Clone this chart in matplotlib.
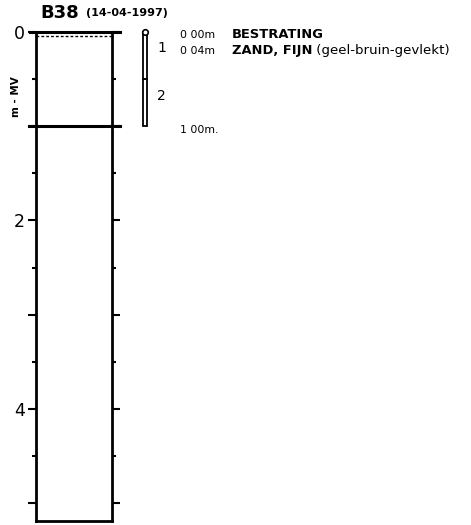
import matplotlib.pyplot as plt
from matplotlib.transforms import blended_transform_factory

plt.rcParams['font.family'] = ['DejaVu Sans']

# boring log data
boring_name = "B38"
boring_date = "(14-04-1997)"
layer_tops = [0.00, 0.04]
layer_labels = ["0 00m", "0 04m"]
layer_main = ["BESTRATING", "ZAND, FIJN"]
layer_extra = ["", " (geel-bruin-gevlekt)"]
end_depth = 1.00
end_label = "1 00m."
sample_ids = ["1", "2"]
sample_tops = [0.00, 0.50]
sample_bottoms = [0.50, 1.00]
depth_max = 5.19
major_ticks = [0, 1, 2, 3, 4, 5]
minor_ticks = [0.5, 1.5, 2.5, 3.5, 4.5]
tick_labels = ["0", "", "2", "", "4", ""]

W, H = 471, 525
fig = plt.figure(figsize=(W / 100, H / 100), dpi=100)
ax = fig.add_axes([36 / W, 4 / H, 76 / W, 489 / H])
ax.set_ylim(depth_max, 0)
ax.set_xlim(0, 1)
ax.set_xticks([])
for s in ax.spines.values():
    s.set_linewidth(2.0)

ax.set_yticks(major_ticks)
ax.set_yticklabels(tick_labels, fontsize=12.5)
ax.set_yticks(minor_ticks, minor=True)
ax.tick_params(axis="y", which="major", direction="out", length=6, width=1.5,
               left=True, right=True, pad=2)
ax.tick_params(axis="y", which="minor", direction="out", length=3, width=1.5,
               left=True, right=True)
ax.set_ylabel("m - MV", fontsize=7.5, fontweight="bold")
ax.yaxis.set_label_coords(-0.2, 0.867)

# transform: x in figure pixels, y in depth
tr = blended_transform_factory(fig.transFigure, ax.transData)
px = lambda x: x / W

# layer boundaries
ax.plot([px(30), px(120)], [0, 0], transform=tr, color="black", lw=2.2, clip_on=False)
ax.plot([0, 1], [layer_tops[1], layer_tops[1]], color="black", lw=1.0,
        ls=(0, (2, 1.5)))
ax.plot([px(29), px(120)], [end_depth, end_depth], transform=tr, color="black",
        lw=2.2, clip_on=False)

# sample bars
label_y = [0.17, 0.68]
for sid, t, b, ly in zip(sample_ids, sample_tops, sample_bottoms, label_y):
    ax.add_patch(plt.Rectangle((px(143), t), px(4), b - t, transform=tr,
                               fill=False, lw=1.3, clip_on=False))
    ax.text(px(157), ly, sid, transform=tr, fontsize=10, ha="left", va="center")
ax.plot([px(145)], [0.0], transform=tr, marker="o", ms=4, mfc="white",
        mec="black", mew=1.2, clip_on=False)

# layer texts
rows_y = [0.03, 0.20]
for lab, main, extra, yy in zip(layer_labels, layer_main, layer_extra, rows_y):
    ax.text(px(180), yy, lab, transform=tr, fontsize=7.8, ha="left", va="center")
    t = ax.text(px(232), yy, main, transform=tr, fontsize=9.4, fontweight="bold",
                ha="left", va="center")
    if extra:
        ax.annotate(extra, xycoords=t, xy=(1, 0.5), va="center", ha="left",
                    fontsize=9.6)
ax.text(px(180), end_depth + 0.04, end_label, transform=tr, fontsize=7.8,
        ha="left", va="center")

# title
fig.text(px(40), 1 - 13 / H, boring_name, fontsize=13, fontweight="bold",
         ha="left", va="center")
fig.text(px(86), 1 - 13 / H, boring_date, fontsize=8, fontweight="bold",
         ha="left", va="center")

fig.savefig("out.png", dpi=100)
